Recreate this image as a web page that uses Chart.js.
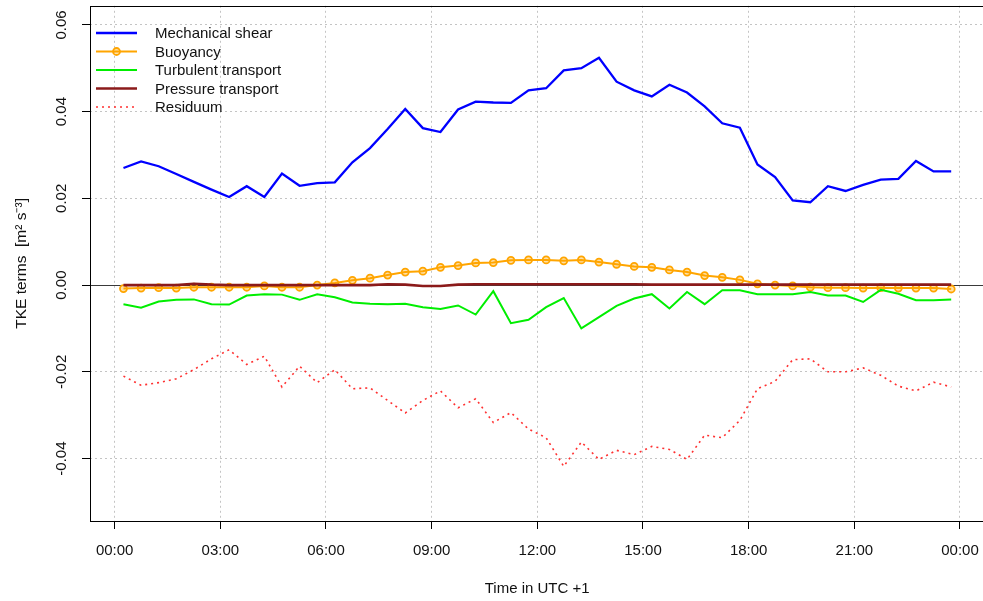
<!DOCTYPE html>
<html>
<head>
<meta charset="utf-8">
<title>TKE budget</title>
<script src="https://cdn.jsdelivr.net/npm/chart.js@4.4.1/dist/chart.umd.min.js"></script>
<style>
  html, body { margin:0; padding:0; background:#fff; overflow:hidden; }
  body { width:983px; height:601px; }
  #tke { display:block; }
</style>
</head>
<body>
<canvas id="tke" width="1000" height="601"></canvas>
<script>
// half-hourly means, time in decimal hours (UTC+1)
const hours = [
  0.25, 0.75, 1.25, 1.75, 2.25, 2.75, 3.25, 3.75, 4.25, 4.75, 5.25, 5.75,
  6.25, 6.75, 7.25, 7.75, 8.25, 8.75, 9.25, 9.75, 10.25, 10.75, 11.25, 11.75,
  12.25, 12.75, 13.25, 13.75, 14.25, 14.75, 15.25, 15.75, 16.25, 16.75, 17.25, 17.75,
  18.25, 18.75, 19.25, 19.75, 20.25, 20.75, 21.25, 21.75, 22.25, 22.75, 23.25, 23.75
];

const shear = [
  0.0270, 0.0285, 0.0274, 0.0256, 0.0238, 0.0220, 0.0203, 0.0228, 0.0203, 0.0257, 0.0229, 0.0235,
  0.0237, 0.0283, 0.0316, 0.0360, 0.0406, 0.0362, 0.0353, 0.0405, 0.0423, 0.0421, 0.0420, 0.0449,
  0.0454, 0.0495, 0.0500, 0.0524, 0.0469, 0.0449, 0.0435, 0.0462, 0.0444, 0.0412, 0.0373, 0.0363,
  0.0278, 0.0249, 0.0195, 0.0191, 0.0228, 0.0217, 0.0231, 0.0243, 0.0245, 0.0286, 0.0262, 0.0262
];

const buoyancy = [
  -0.0008, -0.0007, -0.0006, -0.0007, -0.0005, -0.0005, -0.0005, -0.0005, -0.0002, -0.0005, -0.0005, 0.0000,
  0.0005, 0.0011, 0.0016, 0.0023, 0.0030, 0.0032, 0.0041, 0.0045, 0.0051, 0.0052, 0.0057, 0.0058,
  0.0058, 0.0056, 0.0058, 0.0053, 0.0048, 0.0043, 0.0041, 0.0035, 0.0030, 0.0022, 0.0018, 0.0012,
  0.0003, 0.0000, -0.0002, -0.0005, -0.0006, -0.0006, -0.0007, -0.0006, -0.0007, -0.0007, -0.0007, -0.0009
];

const turbTransport = [
  -0.0044, -0.0052, -0.0038, -0.0034, -0.0033, -0.0044, -0.0045, -0.0024, -0.0021, -0.0022, -0.0034, -0.0021,
  -0.0028, -0.0040, -0.0043, -0.0044, -0.0043, -0.0051, -0.0055, -0.0047, -0.0068, -0.0014, -0.0088, -0.0080,
  -0.0051, -0.0030, -0.0100, -0.0074, -0.0048, -0.0031, -0.0021, -0.0054, -0.0016, -0.0044, -0.0012, -0.0012,
  -0.0021, -0.0021, -0.0021, -0.0016, -0.0024, -0.0024, -0.0039, -0.0011, -0.0020, -0.0035, -0.0035, -0.0033
];

const pressTransport = [
  0.0000, 0.0000, 0.0000, 0.0000, 0.0003, 0.0001, 0.0000, 0.0000, 0.0000, 0.0000, 0.0000, 0.0000,
  0.0000, 0.0000, 0.0000, 0.0002, 0.0001, -0.0002, -0.0002, 0.0001, 0.0002, 0.0002, 0.0002, 0.0002,
  0.0002, 0.0002, 0.0002, 0.0002, 0.0002, 0.0002, 0.0001, 0.0001, 0.0001, 0.0001, 0.0001, 0.0001,
  0.0001, 0.0001, 0.0001, 0.0001, 0.0001, 0.0001, 0.0001, 0.0001, 0.0001, 0.0001, 0.0001, 0.0001
];

const residuum = [
  -0.0210, -0.0231, -0.0225, -0.0216, -0.0195, -0.0170, -0.0149, -0.0183, -0.0164, -0.0235, -0.0187, -0.0225,
  -0.0195, -0.0239, -0.0237, -0.0266, -0.0295, -0.0266, -0.0244, -0.0283, -0.0262, -0.0317, -0.0294, -0.0332,
  -0.0352, -0.0418, -0.0362, -0.0402, -0.0381, -0.0391, -0.0372, -0.0379, -0.0402, -0.0346, -0.0352, -0.0312,
  -0.0239, -0.0222, -0.0172, -0.0170, -0.0200, -0.0200, -0.0191, -0.0208, -0.0233, -0.0244, -0.0224, -0.0235
];

const xTicks = [0, 3, 6, 9, 12, 15, 18, 21, 24];
const yTicks = [-0.04, -0.02, 0.00, 0.02, 0.04, 0.06];

const FONT = '"Liberation Sans", Arial, sans-serif';
const pts = arr => hours.map((h, i) => ({ x: h, y: arr[i] }));

// zero reference line under the curves
const zeroLine = {
  id: 'zeroLine',
  beforeDatasetsDraw(chart) {
    const { ctx, chartArea: a, scales: { y } } = chart;
    const py = Math.round(y.getPixelForValue(0)) + 0.5;
    ctx.save();
    ctx.strokeStyle = '#3a3a3a';
    ctx.lineWidth = 1.2;
    ctx.beginPath();
    ctx.moveTo(a.left, py);
    ctx.lineTo(a.right, py);
    ctx.stroke();
    ctx.restore();
  }
};

// box round the plot region
const frame = {
  id: 'frame',
  afterDraw(chart) {
    const { ctx, chartArea: a } = chart;
    ctx.save();
    ctx.strokeStyle = '#000';
    ctx.lineWidth = 1;
    ctx.strokeRect(Math.round(a.left) + 0.5, Math.round(a.top) + 0.5,
                   Math.round(a.right - a.left), Math.round(a.bottom - a.top));
    ctx.restore();
  }
};

// legend in the top-left corner, no box
const cornerLegend = {
  id: 'cornerLegend',
  afterDraw(chart) {
    const { ctx } = chart;
    const x0 = 96, x1 = 137, tx = 155, top = 33, step = 18.5;
    ctx.save();
    chart.data.datasets.forEach((ds, i) => {
      const yy = top + i * step;
      ctx.strokeStyle = ds.borderColor;
      ctx.lineWidth = ds.borderWidth;
      ctx.setLineDash(ds.borderDash || []);
      ctx.beginPath();
      ctx.moveTo(x0, yy);
      ctx.lineTo(x1, yy);
      ctx.stroke();
      ctx.setLineDash([]);
      if (ds.pointRadius > 0) {
        ctx.beginPath();
        ctx.arc((x0 + x1) / 2, yy, ds.pointRadius, 0, Math.PI * 2);
        ctx.fillStyle = ds.pointBackgroundColor;
        ctx.fill();
        ctx.lineWidth = ds.pointBorderWidth;
        ctx.strokeStyle = ds.pointBorderColor;
        ctx.stroke();
      }
      ctx.fillStyle = '#111';
      ctx.font = '15px ' + FONT;
      ctx.textAlign = 'left';
      ctx.textBaseline = 'middle';
      ctx.fillText(ds.label, tx, yy + 1);
    });
    ctx.restore();
  }
};

const hhmm = v => String(v % 24).padStart(2, '0') + ':00';

// fixed axis boxes so the plot region sits where it should
const fitX = s => { s.height = 80; s.paddingLeft = 0; s.paddingRight = 0; };
const fitY = s => { s.width = 90; s.paddingTop = 0; s.paddingBottom = 0; };

new Chart(document.getElementById('tke'), {
  type: 'line',
  data: {
    datasets: [
      { label: 'Mechanical shear', data: pts(shear), borderColor: '#0000ff', borderWidth: 2.3,
        pointRadius: 0, order: 1 },
      { label: 'Buoyancy', data: pts(buoyancy), borderColor: '#ffa500', borderWidth: 2,
        pointRadius: 3.5, pointBorderWidth: 1.8, pointBorderColor: '#ffa500',
        pointBackgroundColor: 'rgba(255,165,0,0.35)', order: 4 },
      { label: 'Turbulent transport', data: pts(turbTransport), borderColor: '#00ee00', borderWidth: 2,
        pointRadius: 0, order: 3 },
      { label: 'Pressure transport', data: pts(pressTransport), borderColor: '#8b1a1a', borderWidth: 2.6,
        pointRadius: 0, order: 2 },
      { label: 'Residuum', data: pts(residuum), borderColor: '#ff3030', borderWidth: 1.6,
        borderDash: [2, 4], pointRadius: 0, order: 5 }
    ]
  },
  options: {
    responsive: false,
    devicePixelRatio: 1,
    animation: false,
    events: [],
    layout: { padding: { left: 0, top: 5, right: 15.7, bottom: 0 } },
    elements: { line: { tension: 0 } },
    plugins: { legend: { display: false }, tooltip: { enabled: false } },
    scales: {
      x: {
        type: 'linear',
        min: -0.70,
        max: 24.69,
        afterBuildTicks: s => { s.ticks = xTicks.map(v => ({ value: v })); },
        afterFit: fitX,
        grid: { color: '#c4c4c4', lineWidth: 1, tickLength: 8, tickColor: '#000', tickBorderDash: [] },
        border: { display: false, dash: [2, 3] },
        ticks: { color: '#111', font: { family: FONT, size: 15 }, padding: 13,
                 maxRotation: 0, autoSkip: false, callback: v => hhmm(v) },
        title: { display: true, text: 'Time in UTC +1', color: '#111',
                 font: { family: FONT, size: 15 }, padding: { top: 0, bottom: 3 } }
      },
      y: {
        min: -0.0544,
        max: 0.0644,
        afterBuildTicks: s => { s.ticks = yTicks.map(v => ({ value: v })); },
        afterFit: fitY,
        grid: { color: '#c4c4c4', lineWidth: 1, tickLength: 8, tickColor: '#000', tickBorderDash: [] },
        border: { display: false, dash: [2, 3] },
        ticks: { color: '#111', font: { family: FONT, size: 15 }, padding: 3,
                 minRotation: 90, maxRotation: 90, crossAlign: 'center',
                 callback: v => v.toFixed(2) },
        title: { display: true, text: 'TKE terms  [m² s⁻³]', color: '#111',
                 font: { family: FONT, size: 15.5 }, padding: { top: 12, bottom: 0 } }
      }
    }
  },
  plugins: [zeroLine, frame, cornerLegend]
});
</script>
</body>
</html>
